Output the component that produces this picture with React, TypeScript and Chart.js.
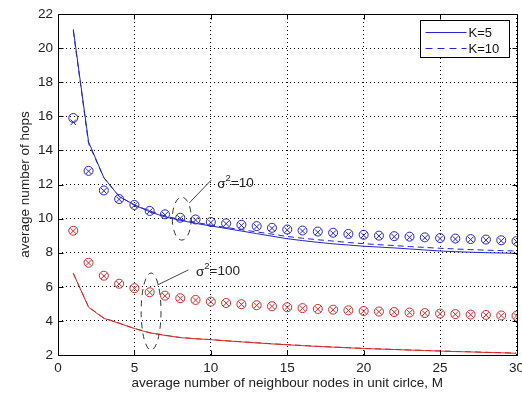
import React, { useEffect, useRef } from "react";
import { Chart, registerables } from "chart.js";

Chart.register(...registerables);

// ---- data ----
const M = [1, 2, 3, 4, 5, 6, 7, 8, 9, 10, 11, 12, 13, 14, 15, 16, 17, 18, 19, 20, 21, 22, 23, 24, 25, 26, 27, 28, 29, 30];

// analytical curves, sigma^2 = 10
const blueK5 = [21.1, 14.5, 12.4, 11.3, 10.8, 10.4, 10.1, 9.9, 9.72, 9.57, 9.42, 9.27, 9.12, 8.97, 8.82, 8.71, 8.61, 8.52, 8.45, 8.38, 8.33, 8.28, 8.22, 8.16, 8.1, 8.06, 8.03, 8.0, 7.98, 7.96];
const blueK10 = [21.0, 14.4, 12.4, 11.3, 10.8, 10.45, 10.15, 9.95, 9.78, 9.62, 9.48, 9.35, 9.22, 9.09, 8.95, 8.85, 8.76, 8.68, 8.6, 8.53, 8.47, 8.42, 8.36, 8.31, 8.26, 8.22, 8.18, 8.15, 8.12, 8.1];
// analytical curves, sigma^2 = 100
const redK5 = [6.79, 4.8, 4.15, 3.86, 3.55, 3.3, 3.15, 3.02, 2.95, 2.9, 2.83, 2.77, 2.71, 2.65, 2.6, 2.55, 2.5, 2.46, 2.42, 2.38, 2.35, 2.32, 2.29, 2.26, 2.23, 2.2, 2.18, 2.15, 2.13, 2.1];
const redK10 = [6.79, 4.82, 4.17, 3.87, 3.56, 3.31, 3.16, 3.03, 2.96, 2.9, 2.84, 2.78, 2.72, 2.66, 2.61, 2.56, 2.51, 2.47, 2.43, 2.39, 2.36, 2.33, 2.3, 2.27, 2.24, 2.21, 2.19, 2.16, 2.14, 2.11];

// simulation markers
const blueSimK5 = [15.9, 12.8, 11.65, 11.15, 10.8, 10.45, 10.25, 10.05, 9.95, 9.8, 9.72, 9.64, 9.56, 9.46, 9.36, 9.3, 9.24, 9.17, 9.1, 9.05, 9.0, 8.97, 8.94, 8.9, 8.86, 8.83, 8.8, 8.77, 8.73, 8.68];
const blueSimK10 = [15.65, 12.78, 11.63, 11.13, 10.78, 10.43, 10.22, 10.02, 9.92, 9.77, 9.7, 9.6, 9.52, 9.43, 9.33, 9.27, 9.2, 9.14, 9.07, 9.02, 8.98, 8.94, 8.9, 8.87, 8.83, 8.8, 8.77, 8.74, 8.7, 8.66];
const redSimK5 = [9.29, 7.41, 6.65, 6.18, 5.92, 5.68, 5.48, 5.33, 5.23, 5.13, 5.05, 4.98, 4.92, 4.86, 4.8, 4.75, 4.7, 4.66, 4.62, 4.58, 4.55, 4.52, 4.49, 4.46, 4.43, 4.4, 4.37, 4.35, 4.32, 4.3];
const redSimK10 = [9.27, 7.4, 6.63, 6.17, 5.91, 5.67, 5.47, 5.32, 5.22, 5.12, 5.04, 4.97, 4.91, 4.85, 4.79, 4.74, 4.69, 4.65, 4.61, 4.57, 4.54, 4.51, 4.48, 4.45, 4.42, 4.39, 4.36, 4.34, 4.31, 4.29];

const X_TICKS = [0, 5, 10, 15, 20, 25, 30];
const Y_TICKS = [2, 4, 6, 8, 10, 12, 14, 16, 18, 20, 22];
const LEGEND_LABELS = ["K=5", "K=10"];
const SIGMA_LABELS = ["10", "100"];

const BLUE = "#2424d2";
const RED = "#d42828";
const FONT = "'Liberation Sans', Arial, Helvetica, sans-serif";

// annotation geometry (data units)
const NOTES = [
  { label: SIGMA_LABELS[0], cx: 8.1, cy: 10.0, rx: 0.62, ry: 1.26, from: [8.59, 10.92], to: [10.03, 12.26], text: [10.42, 12.05] },
  { label: SIGMA_LABELS[1], cx: 6.09, cy: 4.55, rx: 0.65, ry: 2.26, from: [6.5, 6.1], to: [8.53, 6.99], text: [9.03, 6.93] },
];

const pts = (ys: number[]) => M.map((m, i) => ({ x: m, y: ys[i] }));

const overlay = {
  id: "overlay",
  afterDatasetsDraw(chart: any) {
    const { ctx, chartArea: a, scales } = chart;
    const x = scales.x;
    const y = scales.y;
    ctx.save();
    // box
    ctx.strokeStyle = "#000";
    ctx.lineWidth = 1;
    ctx.setLineDash([]);
    const L = Math.round(a.left) + 0.5;
    const R = Math.round(a.right) + 0.5;
    const T = Math.round(a.top) + 0.5;
    const B = Math.round(a.bottom) + 0.5;
    ctx.strokeRect(L, T, R - L, B - T);
    // inward ticks
    ctx.beginPath();
    for (const v of X_TICKS) {
      const px = Math.round(x.getPixelForValue(v)) + 0.5;
      ctx.moveTo(px, B);
      ctx.lineTo(px, B - 5);
      ctx.moveTo(px, T);
      ctx.lineTo(px, T + 5);
    }
    for (const v of Y_TICKS) {
      const py = Math.round(y.getPixelForValue(v)) + 0.5;
      ctx.moveTo(L, py);
      ctx.lineTo(L + 5, py);
      ctx.moveTo(R, py);
      ctx.lineTo(R - 5, py);
    }
    ctx.stroke();

    // annotations
    for (const n of NOTES) {
      const cx = x.getPixelForValue(n.cx);
      const cy = y.getPixelForValue(n.cy);
      const rx = Math.abs(x.getPixelForValue(n.cx + n.rx) - cx);
      const ry = Math.abs(y.getPixelForValue(n.cy + n.ry) - cy);
      ctx.strokeStyle = "#333";
      ctx.lineWidth = 1;
      ctx.setLineDash([6, 5]);
      ctx.beginPath();
      ctx.ellipse(cx, cy, rx, ry, 0, 0, Math.PI * 2);
      ctx.stroke();
      ctx.setLineDash([]);
      ctx.strokeStyle = "#444";
      ctx.beginPath();
      ctx.moveTo(x.getPixelForValue(n.from[0]), y.getPixelForValue(n.from[1]));
      ctx.lineTo(x.getPixelForValue(n.to[0]), y.getPixelForValue(n.to[1]));
      ctx.stroke();
      // text sigma^2=...
      let tx = x.getPixelForValue(n.text[0]);
      const ty = y.getPixelForValue(n.text[1]);
      ctx.fillStyle = "#222";
      ctx.textBaseline = "middle";
      ctx.textAlign = "left";
      ctx.font = `13.5px ${FONT}`;
      ctx.fillText("σ", tx, ty + 1);
      tx += ctx.measureText("σ").width;
      ctx.font = `9.5px ${FONT}`;
      ctx.fillText("2", tx, ty - 5);
      tx += ctx.measureText("2").width;
      ctx.font = `13.5px ${FONT}`;
      ctx.fillText("=" + n.label, tx, ty);
    }

    // legend
    ctx.font = `13px ${FONT}`;
    const lineLen = 41;
    const w = 89;
    const h = 37;
    const lx = Math.round(a.right - 8 - w) + 0.5;
    const ly = Math.round(a.top + 6) + 0.5;
    ctx.fillStyle = "#fff";
    ctx.fillRect(lx, ly, w, h);
    ctx.strokeStyle = "#000";
    ctx.lineWidth = 1;
    ctx.strokeRect(lx, ly, w, h);
    LEGEND_LABELS.forEach((lab, i) => {
      const yy = Math.round(ly + 11 + i * 16.5) + 0.5;
      ctx.strokeStyle = BLUE;
      ctx.setLineDash(i === 0 ? [] : [7, 5]);
      ctx.beginPath();
      ctx.moveTo(lx + 5, yy);
      ctx.lineTo(lx + 5 + lineLen, yy);
      ctx.stroke();
      ctx.setLineDash([]);
      ctx.fillStyle = "#111";
      ctx.textBaseline = "middle";
      ctx.textAlign = "left";
      ctx.fillText(lab, lx + 5 + lineLen + 2, yy + 0.5);
    });
    ctx.restore();
  },
};

export default function App() {
  const ref = useRef<HTMLCanvasElement>(null);
  useEffect(() => {
    if (!ref.current) return;
    const lineDs = (data: number[], color: string, dash: number[]) => ({
      data: pts(data),
      showLine: true,
      borderColor: color,
      borderWidth: 1,
      borderDash: dash,
      pointRadius: 0,
      fill: false,
      tension: 0,
    });
    const markDs = (data: number[], color: string, style: string, r: number) => ({
      data: pts(data),
      showLine: false,
      borderColor: color,
      backgroundColor: "rgba(0,0,0,0)",
      pointStyle: style,
      pointRadius: r,
      pointBorderWidth: 1,
    });
    const chart = new Chart(ref.current, {
      type: "scatter",
      data: {
        datasets: [
          lineDs(blueK5, BLUE, []),
          lineDs(blueK10, BLUE, [6, 4]),
          lineDs(redK5, RED, []),
          lineDs(redK10, RED, [6, 4]),
          markDs(blueSimK5, BLUE, "circle", 4.5),
          markDs(blueSimK10, BLUE, "crossRot", 4),
          markDs(redSimK5, RED, "circle", 4.5),
          markDs(redSimK10, RED, "crossRot", 4),
        ] as any,
      },
      options: {
        animation: false,
        responsive: false,
        layout: { padding: { top: 14, right: 4, left: 0, bottom: 0 } },
        plugins: { legend: { display: false }, tooltip: { enabled: false } },
        scales: {
          x: {
            type: "linear",
            min: 0,
            max: 30,
            afterBuildTicks: (s: any) => {
              s.ticks = X_TICKS.map((v) => ({ value: v }));
            },
            afterFit: (s: any) => {
              s.height = 38;
              s.paddingLeft = 0;
              s.paddingRight = 0;
            },
            grid: { color: "#000", lineWidth: 1, drawTicks: false },
            border: { display: false, dash: [1, 3] },
            ticks: { color: "#222", padding: 5, font: { family: FONT, size: 13.5 }, maxRotation: 0 },
            title: {
              display: true,
              text: "average number of neighbour nodes in unit cirlce, M",
              color: "#222",
              font: { family: FONT, size: 13.5 },
              padding: { top: 0, bottom: 2 },
            },
          },
          y: {
            type: "linear",
            min: 2,
            max: 22,
            afterBuildTicks: (s: any) => {
              s.ticks = Y_TICKS.map((v) => ({ value: v }));
            },
            afterFit: (s: any) => {
              s.width = 58;
              s.paddingTop = 0;
              s.paddingBottom = 0;
            },
            grid: { color: "#000", lineWidth: 1, drawTicks: false },
            border: { display: false, dash: [1, 3] },
            ticks: { color: "#222", padding: 5, font: { family: FONT, size: 13.5 } },
            title: {
              display: true,
              text: "average number of hops",
              color: "#222",
              font: { family: FONT, size: 13.5 },
              padding: { top: 17, bottom: 0 },
            },
          },
        },
      },
      plugins: [overlay],
    } as any);
    return () => chart.destroy();
  }, []);
  return (
    <div style={{ position: "absolute", left: 0, top: 0, width: 522, height: 393, background: "#fff" }}>
      <canvas ref={ref} width={522} height={393} style={{ width: 522, height: 393, display: "block" }} />
    </div>
  );
}
